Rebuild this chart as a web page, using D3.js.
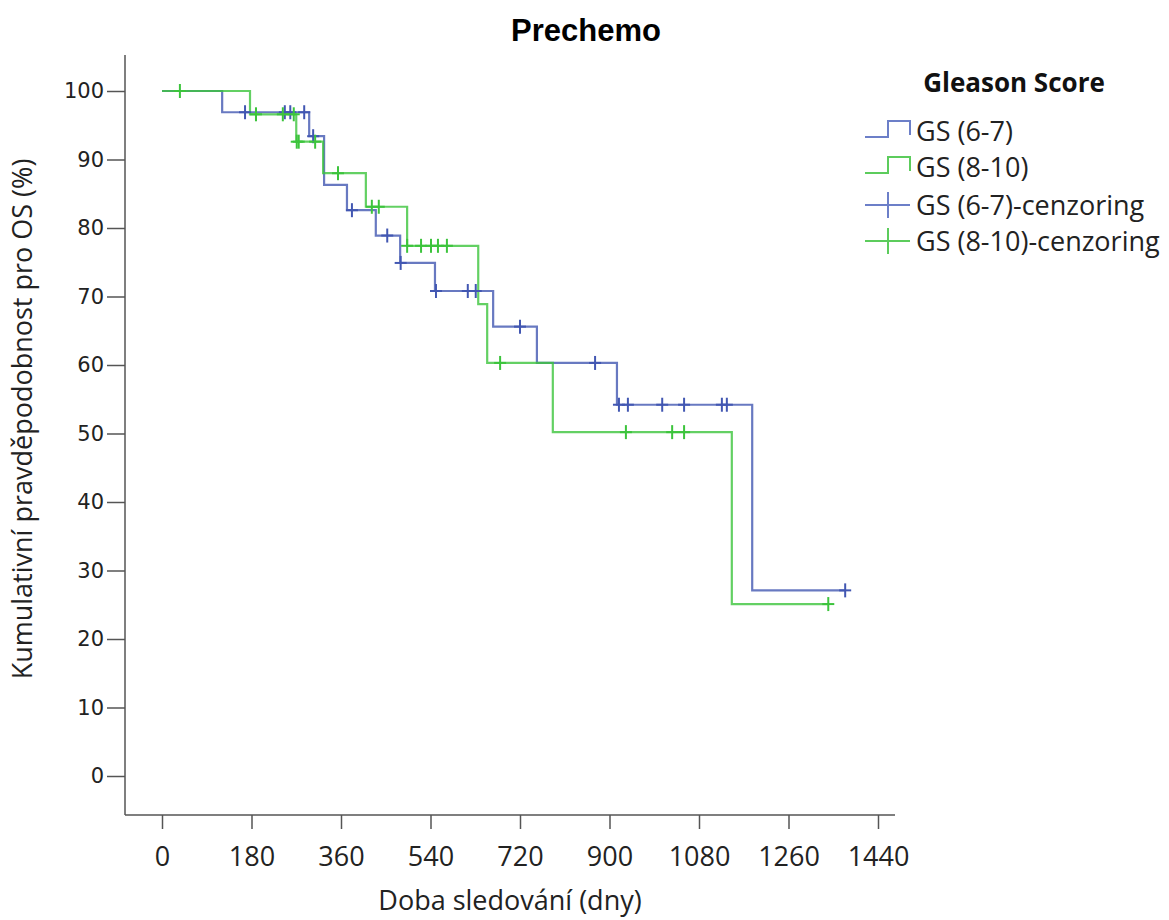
<!DOCTYPE html>
<html>
<head>
<meta charset="utf-8">
<script src="https://cdn.jsdelivr.net/npm/d3@7"></script>
<style>
  html, body { margin: 0; padding: 0; background: #ffffff; }
  svg { display: block; }
</style>
</head>
<body>
<svg id="chart" width="1169" height="920"></svg>
<script>
// ---- Data ----
const chartTitle = "Prechemo";
const xTitle = "Doba sledování (dny)";
const yTitle = "Kumulativní pravděpodobnost pro OS (%)";
const legendTitle = "Gleason Score";
const seriesNames = ["GS (6-7)", "GS (8-10)"];
const censorNames = ["GS (6-7)-cenzoring", "GS (8-10)-cenzoring"];

const xTicks = [0, 180, 360, 540, 720, 900, 1080, 1260, 1440];
const yTicks = [0, 10, 20, 30, 40, 50, 60, 70, 80, 90, 100];

// GS (6-7): step times (days) and survival (%)
const blueTimes = [0, 121, 296, 326, 372, 430, 479, 549, 666, 754, 915, 1187];
const blueSurv  = [100, 96.9, 93.4, 86.3, 82.6, 78.9, 74.9, 70.8, 65.6, 60.3, 54.2, 27.1];
const blueEnd = 1374;
const blueCensor = [167, 247, 258, 286, 304, 382, 453, 480, 551, 615, 631, 720, 871, 919, 937, 1006, 1050, 1126, 1136, 1374];

// GS (8-10)
const greenTimes = [0, 177, 270, 324, 410, 493, 636, 654, 786, 1146];
const greenSurv  = [100, 96.6, 92.6, 88.0, 83.1, 77.4, 68.9, 60.3, 50.2, 25.1];
const greenEnd = 1340;
const greenCensor = [36, 189, 243, 265, 271, 275, 308, 354, 422, 436, 493, 521, 541, 555, 573, 680, 933, 1026, 1050, 1340];

const colors = ["#4257b2", "#3cc43c"];
const legendColors = ["#6c7fc8", "#5ccc5c"];

// ---- Layout ----
const svg = d3.select("#chart");
const x = d3.scaleLinear().domain([0, 1440]).range([162, 878]);
const y = d3.scaleLinear().domain([0, 100]).range([776, 91]);
const axisColor = "#555555";
const uiFont = "Open Sans, sans-serif";

// Title
svg.append("text")
  .attr("x", 586).attr("y", 41)
  .attr("text-anchor", "middle")
  .attr("font-family", "Liberation Sans, Arial, sans-serif")
  .attr("font-weight", "bold")
  .attr("font-size", 31)
  .attr("fill", "#000")
  .text(chartTitle);

// Axis frame lines
svg.append("line")
  .attr("x1", 125).attr("x2", 125)
  .attr("y1", 55).attr("y2", 815)
  .attr("stroke", axisColor).attr("stroke-width", 1.5);
svg.append("line")
  .attr("x1", 125).attr("x2", 895)
  .attr("y1", 815).attr("y2", 815)
  .attr("stroke", axisColor).attr("stroke-width", 1.5);

// Y axis
const yAxis = svg.append("g")
  .attr("transform", "translate(125,0)")
  .call(d3.axisLeft(y).tickValues(yTicks).tickSize(18).tickSizeOuter(0).tickPadding(3));
yAxis.select(".domain").remove();
yAxis.selectAll(".tick line").attr("stroke", axisColor).attr("stroke-width", 1.5);
yAxis.selectAll(".tick text")
  .attr("font-family", "DejaVu Sans, Verdana, sans-serif")
  .attr("font-size", 21)
  .attr("fill", "#222");

// X axis
const xAxis = svg.append("g")
  .attr("transform", "translate(0,815)")
  .call(d3.axisBottom(x).tickValues(xTicks).tickSize(14).tickSizeOuter(0).tickPadding(18).tickFormat(d3.format("d")));
xAxis.select(".domain").remove();
xAxis.selectAll(".tick line").attr("stroke", axisColor).attr("stroke-width", 1.5);
xAxis.selectAll(".tick text")
  .attr("font-family", uiFont)
  .attr("font-size", 27)
  .attr("fill", "#222");

// Axis titles
svg.append("text")
  .attr("x", 510).attr("y", 910)
  .attr("text-anchor", "middle")
  .attr("font-family", uiFont)
  .attr("font-size", 27)
  .attr("fill", "#222")
  .text(xTitle);
svg.append("text")
  .attr("transform", "translate(32,419) rotate(-90)")
  .attr("text-anchor", "middle")
  .attr("font-family", uiFont)
  .attr("font-size", 27)
  .attr("fill", "#222")
  .text(yTitle);

// ---- Curves ----
function stepPoints(times, surv, end) {
  const pts = times.map((t, i) => [t, surv[i]]);
  pts.push([end, surv[surv.length - 1]]);
  return pts;
}
function survAt(times, surv, t) {
  const i = d3.bisectRight(times, t) - 1;
  return surv[Math.max(0, i)];
}
const lineGen = d3.line().x(d => x(d[0])).y(d => y(d[1])).curve(d3.curveStepAfter);

const series = [
  { times: blueTimes, surv: blueSurv, end: blueEnd, censor: blueCensor, color: colors[0] },
  { times: greenTimes, surv: greenSurv, end: greenEnd, censor: greenCensor, color: colors[1] }
];

series.forEach(s => {
  svg.append("path")
    .datum(stepPoints(s.times, s.surv, s.end))
    .attr("d", lineGen)
    .attr("fill", "none")
    .attr("stroke", s.color)
    .attr("stroke-opacity", 0.8)
    .attr("stroke-width", 2.2);
});

series.forEach(s => {
  const g = svg.append("g");
  s.censor.forEach(t => {
    const cx = x(t), cy = y(survAt(s.times, s.surv, t));
    g.append("line").attr("x1", cx).attr("x2", cx).attr("y1", cy - 7).attr("y2", cy + 7)
      .attr("stroke", s.color).attr("stroke-width", 2);
    g.append("line").attr("x1", cx - 6).attr("x2", cx + 6).attr("y1", cy).attr("y2", cy)
      .attr("stroke", s.color).attr("stroke-width", 2);
  });
});

// ---- Legend ----
const lg = svg.append("g");
lg.append("text")
  .attr("x", 1014).attr("y", 92)
  .attr("text-anchor", "middle")
  .attr("font-family", uiFont)
  .attr("font-weight", "bold")
  .attr("font-size", 26)
  .attr("fill", "#111")
  .text(legendTitle);

const rowY = [130, 166, 205, 241];
seriesNames.forEach((name, i) => {
  const cy = rowY[i];
  lg.append("path")
    .attr("d", `M865,${cy + 7} H888 V${cy - 9} H910 V${cy + 5}`)
    .attr("fill", "none").attr("stroke", legendColors[i]).attr("stroke-width", 2);
  lg.append("text")
    .attr("x", 916).attr("y", cy + 11)
    .attr("font-family", uiFont)
    .attr("font-size", 27).attr("fill", "#222")
    .text(name);
});
censorNames.forEach((name, i) => {
  const cy = rowY[i + 2];
  lg.append("line").attr("x1", 865).attr("x2", 910).attr("y1", cy).attr("y2", cy)
    .attr("stroke", legendColors[i]).attr("stroke-width", 2);
  lg.append("line").attr("x1", 888).attr("x2", 888).attr("y1", cy - 13).attr("y2", cy + 13)
    .attr("stroke", legendColors[i]).attr("stroke-width", 2);
  lg.append("text")
    .attr("x", 916).attr("y", cy + 10)
    .attr("font-family", uiFont)
    .attr("font-size", 27).attr("fill", "#222")
    .text(name);
});
</script>
</body>
</html>
